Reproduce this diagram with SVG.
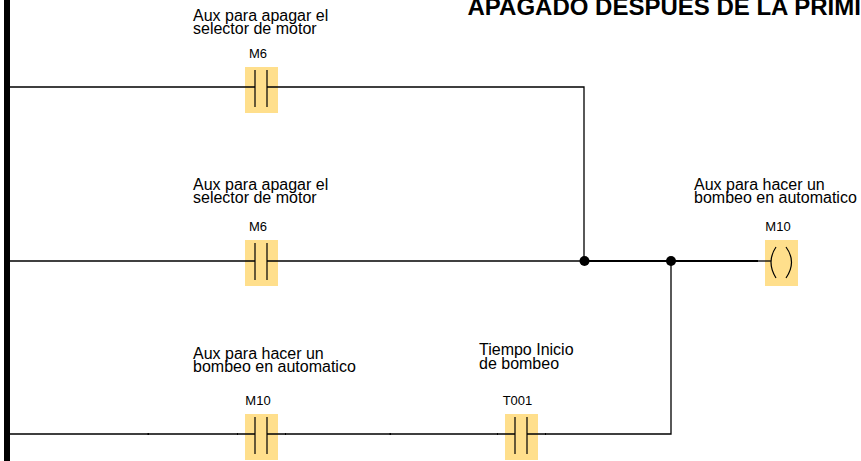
<svg xmlns="http://www.w3.org/2000/svg" width="861" height="461" viewBox="0 0 861 461">
<style>
text{font-family:"Liberation Sans",Arial,sans-serif;fill:#000}
.d{font-size:16px}
.a{font-size:13px;text-anchor:middle}
.t{font-size:24px;font-weight:bold}
.w{fill:none;stroke:#000;stroke-width:1.3}
.h{fill:none;stroke:#000;stroke-width:1.800}
.b{fill:#ffdf8c}
.s{fill:none;stroke:#000;stroke-width:1.2}
</style>
<rect width="861" height="461" fill="#fff"/>
<rect id="rail" x="4" y="0" width="6" height="461" fill="#000"/>
<text class="t" x="467.500" y="15">APAGADO DESPUES DE LA PRIMI</text>
<g id="connectors">
<path class="w" d="M10 87H584V261"/>
<path class="w" d="M10 261H584"/>
<path class="h" d="M584 261H758"/>
<path class="w" d="M758 261H765"/>
<path class="w" d="M10 434H671V261"/>
<path class="h" d="M147.500 434H149M389.500 434H391M237 434H238M285 434H286M497 434H498M545 434H546"/>
<circle cx="584.500" cy="261" r="5"/>
<circle cx="671" cy="261" r="5"/>
</g>
<g id="contact-m6-1">
<text class="d" x="193" y="21">Aux para apagar el</text>
<text class="d" x="193" y="34">selector de motor</text>
<text class="a" x="258" y="58">M6</text>
<rect class="b" x="245" y="67" width="33" height="46"/>
<path class="w" d="M245 87H255M267 87H278"/>
<path class="s" d="M255 70V107M267 70V107"/>
</g>
<g id="contact-m6-2">
<text class="d" x="193" y="190">Aux para apagar el</text>
<text class="d" x="193" y="203">selector de motor</text>
<text class="a" x="258" y="231">M6</text>
<rect class="b" x="245" y="240" width="33" height="46"/>
<path class="w" d="M245 261H255M267 261H278"/>
<path class="s" d="M255 243V280M267 243V280"/>
</g>
<g id="contact-m10">
<text class="d" x="193" y="359">Aux para hacer un</text>
<text class="d" x="193" y="372">bombeo en automatico</text>
<text class="a" x="258" y="405">M10</text>
<rect class="b" x="245" y="414" width="33" height="46"/>
<path class="w" d="M245 434H255M267 434H278"/>
<path class="s" d="M255 417V454M267 417V454"/>
</g>
<g id="contact-t001">
<text class="d" x="479" y="355">Tiempo Inicio</text>
<text class="d" x="479" y="369">de bombeo</text>
<text class="a" x="517.500" y="405">T001</text>
<rect class="b" x="505" y="414" width="33" height="46"/>
<path class="w" d="M505 434H515M527 434H538"/>
<path class="s" d="M515 417V454M527 417V454"/>
</g>
<g id="coil-m10">
<text class="d" x="694" y="190">Aux para hacer un</text>
<text class="d" x="694" y="203">bombeo en automatico</text>
<text class="a" x="778" y="231">M10</text>
<rect class="b" x="765" y="240" width="33" height="46"/>
<path class="w" d="M765 261H771"/>
<path class="s" d="M776 247Q766 262 776 278M786 247Q797 262 786 278"/>
</g>
</svg>
